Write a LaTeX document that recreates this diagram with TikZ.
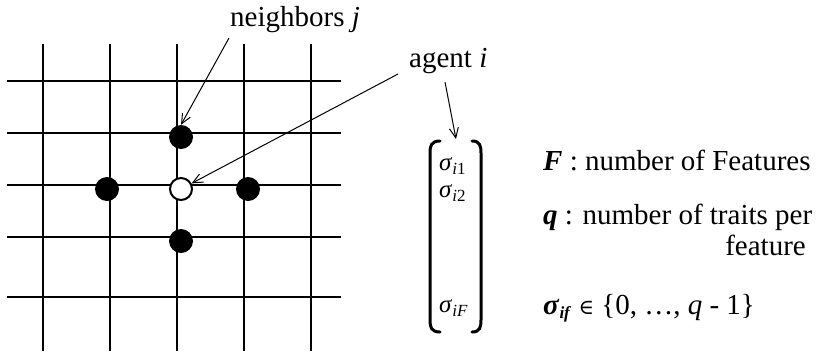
\documentclass[tikz,border=0pt]{standalone}
\usepackage{fontspec}
\setmainfont{Liberation Serif}
\newfontfamily\dvs{DejaVu Serif}
\usetikzlibrary{arrows.meta}
\newcommand\mysub[1]{\raisebox{-0.35ex}{\fontsize{17}{17}\selectfont #1}}
\begin{document}
\begin{tikzpicture}[x=1pt,y=-1pt,
  gridthin/.style={line width=1.1pt},
  gridthick/.style={line width=2.1pt},
  nbr/.style={circle,fill=black,minimum size=24pt,inner sep=0pt},
  agt/.style={circle,draw=black,fill=white,line width=2pt,minimum size=22pt,inner sep=0pt},
  lbl/.style={inner sep=0pt,anchor=base west,font=\fontsize{29}{33}\selectfont},
  sig/.style={inner sep=0pt,anchor=base west,font=\fontsize{25}{27}\selectfont},
  ptr/.style={line width=1pt,-{Straight Barb[length=10pt,width=9pt]}},
  brk/.style={line width=3pt,line cap=round}]
\useasboundingbox (0,0) rectangle (818,351);
% grid
\foreach \x in {43,110,311} \draw[gridthin] (\x,44) -- (\x,351);
\foreach \x in {177,244} \draw[gridthick] (\x,44) -- (\x,351);
\foreach \y in {81,133,185,237,297} \draw[gridthin] (7,\y) -- (341,\y);
% agents
\node[nbr] (ntop) at (181,137) {};
\node[nbr] (nleft) at (107,189) {};
\node[nbr] (nright) at (248,189) {};
\node[nbr] (nbot) at (181,241) {};
\node[agt] (ctr) at (181,189) {};
% labels
\node[lbl] (nbl) at (230,26) {neighbors \textit{j}};
\node[lbl] (agl) at (409,67) {agent \textit{i}};
\coordinate (nbs) at (229,38);
\coordinate (ags) at (398,74);
\coordinate (agm) at (445,82);
\coordinate (mtop) at (456,139);
\draw[ptr] (nbs) -- (ntop.north);
\draw[ptr] (ags) -- (ctr);
\draw[ptr] (agm) -- (mtop);
% vector
\draw[brk] (440,141) .. controls (431,141) and (430,146) .. (430,153) -- (430,320) .. controls (430,327) and (431,332) .. (440,332);
\draw[brk] (472,141) .. controls (480,141) and (481,146) .. (481,153) -- (481,320) .. controls (481,327) and (480,332) .. (472,332);
\node[sig] (s1) at (439,170) {\textit{σ}\mysub{\textit{i}1}};
\node[sig] (s2) at (439,197) {\textit{σ}\mysub{\textit{i}2}};
\node[sig] (sF) at (439,312) {\textit{σ}\mysub{\textit{iF}}};
% definitions
\node[lbl] (dF) at (543,170) {\textbf{\textit{F}} : number of Features};
\node[lbl] (dq) at (543,224) {\textbf{\textit{q}} : number of traits per};
\node[lbl,anchor=base east] (dq2) at (806,255) {feature};
\node[lbl] (ds) at (543,314) {\textbf{\textit{σ}\mysub{\textbf{\textit{if}}}} {\dvs\fontsize{21}{21}\selectfont ∈} \{0, …, \textit{q} - 1\}};
\end{tikzpicture}
\end{document}
